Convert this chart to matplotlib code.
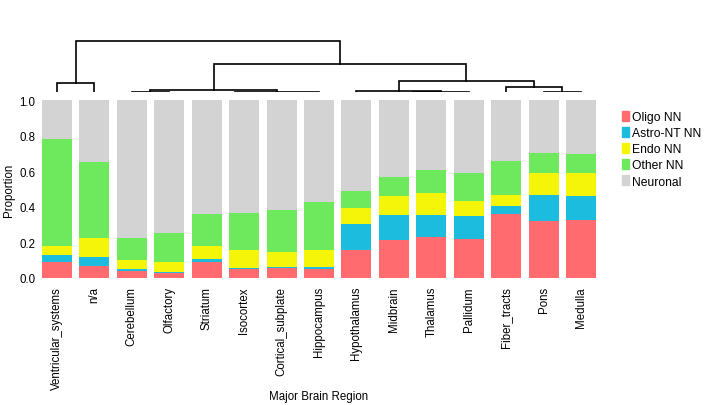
import numpy as np
import matplotlib.pyplot as plt
from matplotlib.patches import Patch

plt.rcParams.update({
    "font.family": ["Liberation Sans", "DejaVu Sans"],
    "font.size": 8.3,
})

regions = ["Ventricular_systems", "n/a", "Cerebellum", "Olfactory", "Striatum",
           "Isocortex", "Cortical_subplate", "Hippocampus", "Hypothalamus",
           "Midbrain", "Thalamus", "Pallidum", "Fiber_tracts", "Pons", "Medulla"]

oligo = [0.090, 0.069, 0.041, 0.030, 0.090, 0.052, 0.056, 0.052, 0.157,
         0.213, 0.232, 0.221, 0.360, 0.322, 0.326]
astro = [0.041, 0.051, 0.011, 0.002, 0.019, 0.002, 0.008, 0.012, 0.146,
         0.141, 0.122, 0.127, 0.044, 0.144, 0.135]
endo = [0.051, 0.107, 0.051, 0.056, 0.071, 0.105, 0.084, 0.095, 0.090,
        0.107, 0.124, 0.085, 0.062, 0.124, 0.129]
other = [0.598, 0.423, 0.122, 0.163, 0.180, 0.208, 0.234, 0.270, 0.096,
         0.106, 0.129, 0.157, 0.191, 0.112, 0.107]
neuronal = [0.220, 0.350, 0.775, 0.749, 0.640, 0.633, 0.618, 0.571, 0.511,
            0.433, 0.393, 0.410, 0.343, 0.298, 0.303]

# dendrogram merges: (left id, right id, height); leaves are 0..14, new clusters 15+
merges = [
    (13, 14, 0.145), (12, 15, 0.233), (9, 10, 0.10), (17, 11, 0.15),
    (8, 18, 0.175), (19, 16, 0.333), (2, 3, 0.145), (5, 6, 0.08),
    (4, 22, 0.14), (23, 7, 0.15), (21, 24, 0.183), (25, 20, 0.617),
    (0, 1, 0.30), (27, 26, 1.0),
]

series = [("Oligo NN", oligo, "#FF6B6E"),
          ("Astro-NT NN", astro, "#1CBCDE"),
          ("Endo NN", endo, "#F5F50A"),
          ("Other NN", other, "#6EE85C"),
          ("Neuronal", neuronal, "#D3D3D3")]

fig = plt.figure(figsize=(7.09, 4.06), dpi=100)
W, H = 709, 406
left, right = 40, 598
ax_d = fig.add_axes([left / W, (H - 102) / H, (right - left) / W, 66 / H])
ax = fig.add_axes([left / W, (H - 287) / H, (right - left) / W, 194 / H])
ax.set_zorder(2)
ax_d.set_zorder(1)

x = np.arange(len(regions))
bottom = np.zeros(len(regions))
for name, vals, col in series:
    ax.bar(x, vals, bottom=bottom, width=0.8, color=col, label=name)
    bottom += np.array(vals)

ax.set_xlim(-0.45, len(regions) - 0.55)
ax.set_ylim(-0.045, 1.045)
ax.set_yticks([0, 0.2, 0.4, 0.6, 0.8, 1.0])
ax.set_xticks(x)
ax.set_xticklabels(regions, rotation=90)
ax.tick_params(length=0)
ax.tick_params(axis="x", pad=0)
for s in ax.spines.values():
    s.set_visible(False)
ax.set_ylabel("Proportion", labelpad=3)
ax.set_xlabel("Major Brain Region")
ax.xaxis.set_label_coords(0.5, -0.535)

# dendrogram
pos = {i: float(i) for i in range(len(regions))}
hgt = {i: 0.0 for i in range(len(regions))}
nid = len(regions)
for a, b, h in merges:
    ax_d.plot([pos[a], pos[a], pos[b], pos[b]], [hgt[a], h, h, hgt[b]],
              color="black", lw=1.2, solid_joinstyle="miter")
    pos[nid] = (pos[a] + pos[b]) / 2
    hgt[nid] = h
    nid += 1
ax_d.set_xlim(ax.get_xlim())
ax_d.set_ylim(0, 1.1)
ax_d.axis("off")

handles = [Patch(color=col, label=name) for name, _, col in series]
fig.legend(handles=handles, loc="upper left", bbox_to_anchor=(612 / W, (H - 102) / H),
           frameon=False, handlelength=0.58, handleheight=0.9, handletextpad=0.3,
           labelspacing=0.33, borderpad=0.3, fontsize=8.7)

fig.savefig("out.png", dpi=100)
